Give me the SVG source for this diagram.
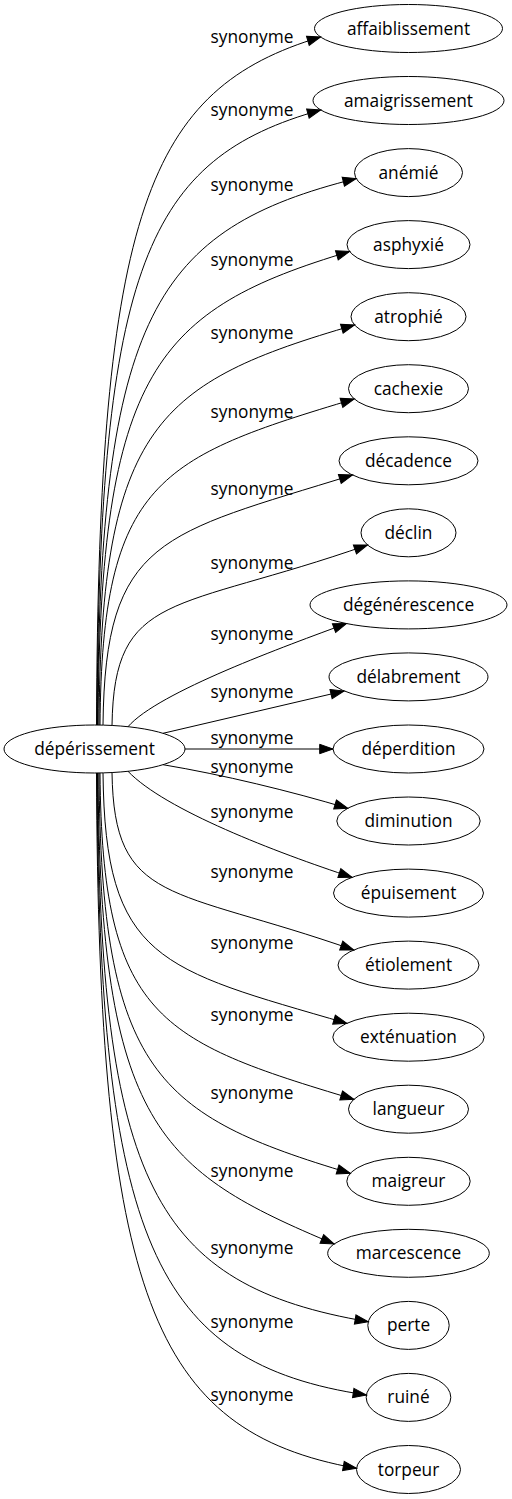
<svg xmlns="http://www.w3.org/2000/svg" width="512" height="1499" viewBox="0 0 512 1499">
<style>
.n ellipse{fill:none;stroke:#000;stroke-width:1}
text{font-family:"Open Sans","Noto Sans","DejaVu Sans",sans-serif;font-size:17.3px;fill:#000;text-anchor:middle}
.e path{fill:none;stroke:#000;stroke-width:1;marker-end:url(#ah)}
</style>
<defs>
<marker id="ah" markerUnits="userSpaceOnUse" markerWidth="14" markerHeight="10" viewBox="0 -5 14 10" refX="13.3" refY="0" orient="auto" overflow="visible">
<path d="M0,-4.7 L13.3,0 L0,4.7 z" fill="#000" stroke="#000" stroke-width="1"/>
</marker>
</defs>
<rect width="512" height="1499" fill="#fff"/>
<g id="edges" class="e">
<path d="M96.5,725 C98.5,209 148.8,88.5 320.6,37"/>
<path d="M97,725 C99,264 148.3,158.3 320.7,110"/>
<path d="M97.5,725 C99.5,315 155.4,228.8 356.2,178.5"/>
<path d="M98,725 C100,370 156.8,309.3 349.6,251.5"/>
<path d="M99,725 C101,425 158.3,382 354.6,325"/>
<path d="M100,725 C102,480.5 159.3,457.4 354.2,399"/>
<path d="M103,725 C105,537.5 161.9,534.1 352.5,475"/>
<path d="M112,725.5 C114,590 174.5,612.5 367.5,545"/>
<path d="M128,726.7 C158,692 286.5,645.7 346.5,623.5"/>
<path d="M163,733.3 C223.3,719.2 283.7,705.1 344,691"/>
<path d="M185,749 L333,749"/>
<path d="M163,764.7 C223,774.7 290.3,791.1 347.8,808.3"/>
<path d="M128,771.3 C165,810 276,852.3 352,877.3"/>
<path d="M112,772.5 C114,905.6 171.2,886.2 353.8,950"/>
<path d="M103,772.9 C105,960.7 159.6,968.9 346.8,1023.3"/>
<path d="M100,773 C102,1017.7 159.3,1041 353.9,1099.3"/>
<path d="M99,773 C101,1073.2 157.7,1115.6 350.3,1173.3"/>
<path d="M98,773 C100,1126.3 159.9,1170.9 334.1,1244"/>
<path d="M97.5,773 C99.5,1184.5 154.7,1285.3 368.3,1321.7"/>
<path d="M97,773 C99,1239.5 153.3,1363.1 366.4,1395"/>
<path d="M96.5,773 C98.5,1294.5 151.8,1431.5 356.5,1468.3"/>
</g>
<g id="edge-labels">
<text x="252" y="43">synonyme</text>
<text x="252" y="116">synonyme</text>
<text x="252" y="191">synonyme</text>
<text x="252" y="266">synonyme</text>
<text x="252" y="339">synonyme</text>
<text x="252" y="418">synonyme</text>
<text x="252" y="495">synonyme</text>
<text x="252" y="569">synonyme</text>
<text x="252" y="640">synonyme</text>
<text x="252" y="698">synonyme</text>
<text x="252" y="744">synonyme</text>
<text x="252" y="773">synonyme</text>
<text x="252" y="818">synonyme</text>
<text x="252" y="878">synonyme</text>
<text x="252" y="949">synonyme</text>
<text x="252" y="1021">synonyme</text>
<text x="252" y="1099">synonyme</text>
<text x="252" y="1177">synonyme</text>
<text x="252" y="1254">synonyme</text>
<text x="252" y="1328">synonyme</text>
<text x="252" y="1401">synonyme</text>
</g>
<g id="node-depérissement" class="n"><ellipse cx="94.5" cy="749" rx="90.5" ry="24"/><text x="94.5" y="755">dépérissement</text></g>
<g id="node-affaiblissement" class="n"><ellipse cx="408.5" cy="28.5" rx="94" ry="24"/><text x="408.5" y="34.5">affaiblissement</text></g>
<g id="node-amaigrissement" class="n"><ellipse cx="408.5" cy="100.5" rx="95.5" ry="24"/><text x="408.5" y="106.5">amaigrissement</text></g>
<g id="node-anemie" class="n"><ellipse cx="408.5" cy="172.6" rx="54" ry="24"/><text x="408.5" y="178.6">anémié</text></g>
<g id="node-asphyxie" class="n"><ellipse cx="408.5" cy="244.6" rx="61.5" ry="24"/><text x="408.5" y="250.6">asphyxié</text></g>
<g id="node-atrophie" class="n"><ellipse cx="408.5" cy="316.7" rx="57.5" ry="24"/><text x="408.5" y="322.7">atrophié</text></g>
<g id="node-cachexie" class="n"><ellipse cx="408.5" cy="388.7" rx="60" ry="24"/><text x="408.5" y="394.7">cachexie</text></g>
<g id="node-decadence" class="n"><ellipse cx="408.5" cy="460.8" rx="69.5" ry="24"/><text x="408.5" y="466.8">décadence</text></g>
<g id="node-declin" class="n"><ellipse cx="408.5" cy="532.8" rx="47.5" ry="24"/><text x="408.5" y="538.8">déclin</text></g>
<g id="node-degenerescence" class="n"><ellipse cx="408.5" cy="604.9" rx="98.5" ry="24"/><text x="408.5" y="610.9">dégénérescence</text></g>
<g id="node-delabrement" class="n"><ellipse cx="408.5" cy="676.9" rx="79.5" ry="24"/><text x="408.5" y="682.9">délabrement</text></g>
<g id="node-deperdition" class="n"><ellipse cx="408.5" cy="749" rx="75.5" ry="24"/><text x="408.5" y="755">déperdition</text></g>
<g id="node-diminution" class="n"><ellipse cx="408.5" cy="821" rx="71.7" ry="24"/><text x="408.5" y="827">diminution</text></g>
<g id="node-epuisement" class="n"><ellipse cx="408.5" cy="893.1" rx="75" ry="24"/><text x="408.5" y="899.1">épuisement</text></g>
<g id="node-etiolement" class="n"><ellipse cx="408.5" cy="965.1" rx="70.5" ry="24"/><text x="408.5" y="971.1">étiolement</text></g>
<g id="node-extenuation" class="n"><ellipse cx="408.5" cy="1037.2" rx="75.7" ry="24"/><text x="408.5" y="1043.2">exténuation</text></g>
<g id="node-langueur" class="n"><ellipse cx="408.5" cy="1109.2" rx="60" ry="24"/><text x="408.5" y="1115.2">langueur</text></g>
<g id="node-maigreur" class="n"><ellipse cx="408.5" cy="1181.3" rx="61.7" ry="24"/><text x="408.5" y="1187.3">maigreur</text></g>
<g id="node-marcescence" class="n"><ellipse cx="408.5" cy="1253.3" rx="80.8" ry="24"/><text x="408.5" y="1259.3">marcescence</text></g>
<g id="node-perte" class="n"><ellipse cx="408.5" cy="1325.4" rx="40.7" ry="24"/><text x="408.5" y="1331.4">perte</text></g>
<g id="node-ruine" class="n"><ellipse cx="408.5" cy="1397.4" rx="42.3" ry="24"/><text x="408.5" y="1403.4">ruiné</text></g>
<g id="node-torpeur" class="n"><ellipse cx="408.5" cy="1469.5" rx="52" ry="24"/><text x="408.5" y="1475.5">torpeur</text></g>
</svg>
